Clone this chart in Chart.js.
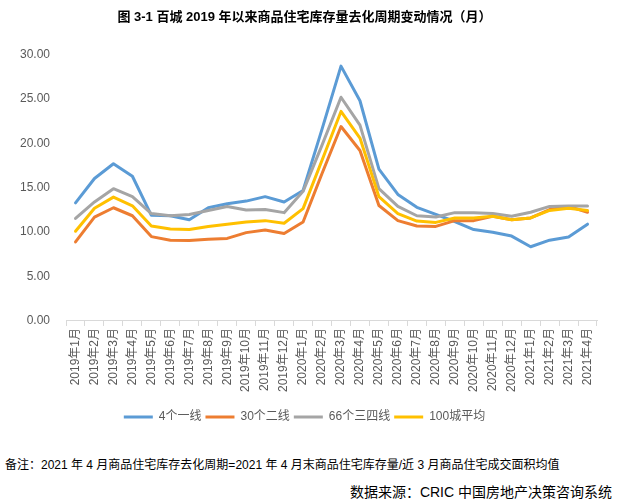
<!DOCTYPE html>
<html>
<head>
<meta charset="utf-8">
<script src="https://cdn.jsdelivr.net/npm/chart.js@4/dist/chart.umd.min.js"></script>
<style>
  html, body { margin: 0; padding: 0; background: #fff; }
  #wrap { position: relative; width: 621px; height: 504px; overflow: hidden; }
  #box { position: absolute; left: 0; top: 0; width: 621px; height: 433px; }
  .note { position: absolute; font-family: "Liberation Sans", "Noto Sans CJK SC", sans-serif; color: #000; white-space: nowrap; }
  #note1 { left: 5px; top: 455px; font-size: 12px; }
  #note2 { right: 9px; top: 481px; font-size: 14px; }
</style>
</head>
<body>
<div id="wrap">
  <div id="box"><canvas id="c" width="621" height="433"></canvas></div>
  <div class="note" id="note1">备注：2021 年 4 月商品住宅库存去化周期=2021 年 4 月末商品住宅库存量/近 3 月商品住宅成交面积均值</div>
  <div class="note" id="note2">数据来源：CRIC 中国房地产决策咨询系统</div>
</div>
<script>
const titleText = "图 3-1 百城 2019 年以来商品住宅库存量去化周期变动情况（月）";
const categories = [
  "2019年1月","2019年2月","2019年3月","2019年4月","2019年5月","2019年6月",
  "2019年7月","2019年8月","2019年9月","2019年10月","2019年11月","2019年12月",
  "2020年1月","2020年2月","2020年3月","2020年4月","2020年5月","2020年6月",
  "2020年7月","2020年8月","2020年9月","2020年10月","2020年11月","2020年12月",
  "2021年1月","2021年2月","2021年3月","2021年4月"
];
const seriesNames = ["4个一线", "30个二线", "66个三四线", "100城平均"];
const tier1 = [13.3, 16.05, 17.7, 16.3, 11.9, 11.85, 11.4, 12.75, 13.2, 13.5, 14.0, 13.4,
               14.7, 21.6, 28.7, 24.8, 17.1, 14.25, 12.8, 12.0, 11.2, 10.3, 10.0, 9.56,
               8.36, 9.1, 9.45, 10.9];
const tier2 = [8.9, 11.7, 12.75, 11.85, 9.5, 9.1, 9.05, 9.2, 9.3, 9.95, 10.25, 9.85,
               11.15, 16.6, 21.9, 19.2, 13.0, 11.3, 10.7, 10.65, 11.3, 11.3, 11.8, 11.4,
               11.6, 12.55, 12.9, 12.25];
const tier34 = [11.55, 13.4, 14.9, 14.0, 12.1, 11.85, 12.0, 12.45, 12.9, 12.5, 12.55, 12.2,
                14.6, 19.8, 25.2, 22.05, 14.9, 12.9, 11.85, 11.7, 12.2, 12.2, 12.1, 11.8,
                12.25, 12.9, 12.95, 12.95];
const avg100 = [10.1, 12.7, 13.95, 12.97, 10.7, 10.35, 10.3, 10.65, 10.9, 11.15, 11.3, 11.0,
                12.65, 18.1, 23.6, 20.6, 14.0, 12.1, 11.25, 11.1, 11.6, 11.6, 11.8, 11.4,
                11.6, 12.45, 12.7, 12.45];
const yTicks = [0, 5, 10, 15, 20, 25, 30];
const colors = ["#5B9BD5", "#ED7D31", "#A5A5A5", "#FFC000"];

const FONT = '"Liberation Sans", "Noto Sans CJK SC", sans-serif';
const allSeries = [tier1, tier2, tier34, avg100];

new Chart(document.getElementById("c"), {
  type: "line",
  data: {
    labels: categories,
    datasets: allSeries.map((d, i) => ({
      label: seriesNames[i],
      data: d,
      borderColor: colors[i],
      backgroundColor: colors[i],
      borderWidth: 3,
      pointRadius: 0,
      tension: 0,
      borderCapStyle: "round",
      borderJoinStyle: "round",
      order: 3 - i,
      fill: false
    }))
  },
  options: {
    responsive: false,
    animation: false,
    layout: { padding: { left: 12, right: 24, top: 0, bottom: 0 } },
    plugins: {
      title: {
        display: true,
        text: titleText,
        color: "#000",
        font: { family: FONT, size: 13, weight: "bold" },
        padding: { top: 10, bottom: 29 }
      },
      legend: {
        position: "bottom",
        labels: {
          usePointStyle: true,
          pointStyle: "line",
          pointStyleWidth: 29,
          boxHeight: 10,
          color: "#595959",
          font: { family: FONT, size: 12 },
          padding: 4,
          sort: (a, b) => a.datasetIndex - b.datasetIndex
        }
      },
      tooltip: { enabled: false }
    },
    scales: {
      x: {
        offset: true,
        afterFit: (scale) => { scale.height += 13; },
        grid: { display: true, offset: true, drawOnChartArea: false, drawTicks: true, tickLength: 5, color: "#D9D9D9" },
        border: { display: true, color: "#D9D9D9" },
        ticks: {
          autoSkip: false,
          maxRotation: 90,
          minRotation: 90,
          color: "#595959",
          font: { family: FONT, size: 12 },
          padding: 2
        }
      },
      y: {
        min: 0,
        max: 30,
        afterBuildTicks: (axis) => { axis.ticks = yTicks.map(v => ({ value: v })); },
        grid: { display: false },
        border: { display: false },
        ticks: {
          color: "#595959",
          font: { family: FONT, size: 12 },
          padding: 8,
          callback: (v) => Number(v).toFixed(2)
        }
      }
    }
  }
});
</script>
</body>
</html>
